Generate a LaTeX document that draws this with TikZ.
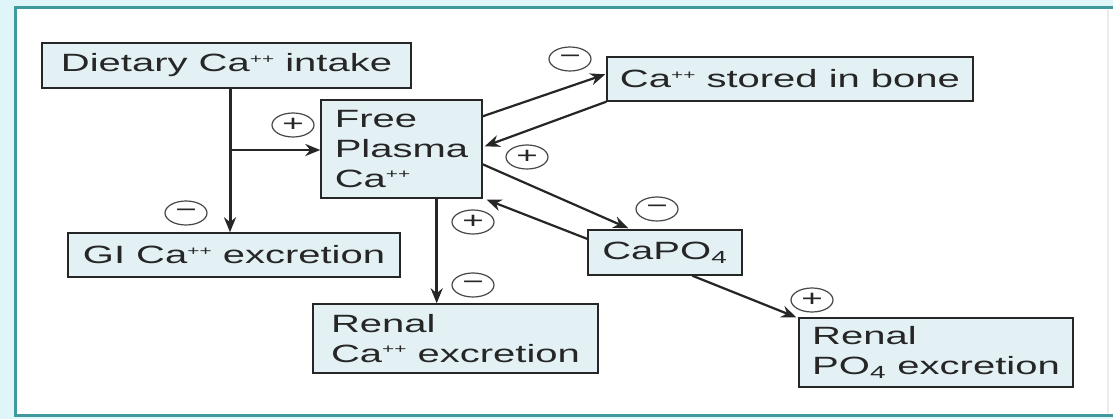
\documentclass[tikz,border=0pt]{standalone}
\usepackage{fontspec}
\setmainfont{Liberation Sans}
\usepackage{graphicx}
\usetikzlibrary{arrows.meta,calc,shapes.geometric}

\definecolor{frameteal}{HTML}{3E9A9C}
\definecolor{outerbg}{HTML}{E0F5F7}
\definecolor{boxfill}{HTML}{E3F1F5}
\definecolor{ink}{HTML}{262626}

% the whole figure is set with horizontally widened lettering
\newcommand{\hs}[1]{\scalebox{1.6}[1]{#1}}
\newcommand{\cpp}{Ca\raisebox{8.5pt}{\fontsize{13}{13}\selectfont ++}}
\newcommand{\pof}{PO\textsubscript{4}}

\begin{document}
\begin{tikzpicture}[x=1pt,y=-1pt,
  every node/.style={font=\fontsize{25}{30}\selectfont, text=ink},
  databox/.style={draw=ink, line width=1.4pt, fill=boxfill, inner sep=0pt, align=left},
  flow/.style={draw=ink, line width=2.2pt, -{Stealth[length=15pt,width=12pt]}},
  vflow/.style={flow, line width=3pt},
  sign/.style={ellipse, draw=ink!85, line width=1.2pt, minimum width=42pt,
    minimum height=24pt, inner sep=0pt, fill=white, font=\fontsize{23}{23}\selectfont},
]
\useasboundingbox (0,0) rectangle (1113,419);

% page frame
\fill[outerbg] (0,0) rectangle (1113,419);
\fill[white] (14,7) rectangle (1113,416);
\draw[black!8, line width=1.5pt] (1108,10) -- (1108,413);
\draw[frameteal, line width=3pt] (1113,7.5) -- (15,7.5) -- (15,415.5) -- (1113,415.5);

% boxes
\node[databox, minimum width=369pt, minimum height=45pt] (diet) at (226.5,65.5)
  {\hs{Dietary \cpp{} intake}};
\node[databox, minimum width=161pt, minimum height=98pt] (fp) at (401.5,149)
  {\hs{Free}\\\hs{Plasma}\\\hs{\cpp}};
\node[databox, minimum width=366pt, minimum height=44pt] (bone) at (790,79)
  {\hs{\cpp{} stored in bone}};
\node[databox, minimum width=332pt, minimum height=44pt] (gi) at (234,255)
  {\hs{GI \cpp{} excretion}};
\node[databox, minimum width=154pt, minimum height=45pt] (capo) at (665,252.5)
  {\hs{CaPO\textsubscript{4}}};
\node[databox, minimum width=285pt, minimum height=69pt] (renca) at (455.5,338.5)
  {\hs{Renal}\\\hs{\cpp{} excretion}};
\node[databox, minimum width=274pt, minimum height=69pt] (renpo) at (936,352.5)
  {\hs{Renal}\\\hs{\pof{} excretion}};

% branch point on the intake line
\coordinate (br) at (230,150);

% connectors
\draw[vflow] (diet.south -| br) -- (gi.north -| br);
\draw[flow] (br) -- (fp.west |- br);
\draw[flow] ($(fp.north east)+(0,17)$) -- ($(bone.north west)+(-1,18)$);
\draw[flow] (bone.south west) -- ($(fp.north east)+(2,47)$);
\draw[flow] ($(fp.north east)+(0,65)$) -- ($(capo.north west)+(41,-1)$);
\draw[flow] ($(capo.north west)+(1,10)$) -- ($(fp.south east)+(4,1)$);
\draw[vflow] ($(fp.south east)+(-46,0)$) coordinate (dn) -- (dn |- renca.north);
\draw[flow] ($(capo.south west)+(105,0)$) -- ($(renpo.north west)+(-2,0)$);

% regulation signs
\node[sign] (s1) at (293,125) {\hs{+}};
\node[sign] (s2) at (186,213) {\hs{−}};
\node[sign] (s3) at (570,59) {\hs{−}};
\node[sign] (s4) at (527,157) {\hs{+}};
\node[sign] (s5) at (657,209) {\hs{−}};
\node[sign] (s6) at (473,222) {\hs{+}};
\node[sign] (s7) at (473,285) {\hs{−}};
\node[sign] (s8) at (812,300) {\hs{+}};
\end{tikzpicture}
\end{document}
